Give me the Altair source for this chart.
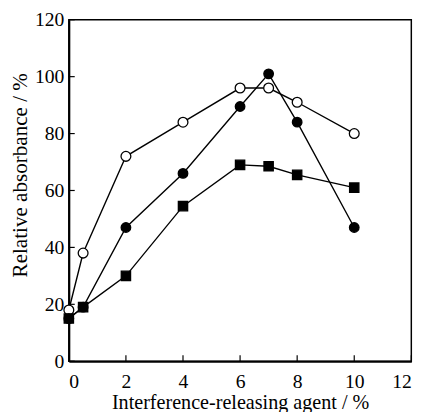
import altair as alt
import pandas as pd

# Data
x_vals = [0, 0.5, 2, 4, 6, 7, 8, 10]
open_circle = [18, 38, 72, 84, 96, 96, 91, 80]
filled_circle = [15, 19, 47, 66, 89.5, 101, 84, 47]
filled_square = [15, 19, 30, 54.5, 69, 68.5, 65.5, 61]

series_names = ["open circle", "filled circle", "filled square"]
x_ticks = [0, 2, 4, 6, 8, 10, 12]
y_ticks = [0, 20, 40, 60, 80, 100, 120]

rows = []
for name, vals in zip(series_names, [open_circle, filled_circle, filled_square]):
    for xv, yv in zip(x_vals, vals):
        rows.append({"x": xv, "y": yv, "series": name})
df = pd.DataFrame(rows)

W, H = 349, 348
FONT = "Liberation Serif"

x_scale = alt.Scale(domain=[0, 12], nice=False, zero=False)
y_scale = alt.Scale(domain=[0, 120], nice=False)

x_axis = alt.Axis(values=x_ticks, ticks=False, tickSize=0, grid=False,
                  title="Interference-releasing agent / %", labelPadding=11,
                  titleY=32, titleFontSize=20.5,
                  domainWidth=2, domainColor="black")
y_axis = alt.Axis(values=y_ticks, ticks=False, tickSize=0, grid=False,
                  title="Relative absorbance / %", labelPadding=5,
                  titleX=-38, titleY=158, titleFontSize=21.5,
                  domainWidth=2, domainColor="black")

X = alt.X("x:Q", scale=x_scale, axis=x_axis)
Y = alt.Y("y:Q", scale=y_scale, axis=y_axis)

lines = alt.Chart(df).mark_line(color="black", strokeWidth=1.4).encode(
    x=X, y=Y, detail="series:N"
)

points = alt.Chart(df).mark_point(filled=True, stroke="black", strokeWidth=1.3, opacity=1).encode(
    x=X, y=Y,
    shape=alt.Shape("series:N", scale=alt.Scale(domain=series_names, range=["circle", "circle", "square"]), legend=None),
    fill=alt.Fill("series:N", scale=alt.Scale(domain=series_names, range=["white", "black", "black"]), legend=None),
    size=alt.Size("series:N", scale=alt.Scale(domain=series_names, range=[100, 90, 130]), legend=None),
)

xt = alt.Chart(pd.DataFrame({"x": x_ticks})).mark_rule(color="black", strokeWidth=1.2).encode(
    x=X, y=alt.value(H), y2=alt.value(H - 6)
)
yt = alt.Chart(pd.DataFrame({"y": y_ticks})).mark_rule(color="black", strokeWidth=1.2).encode(
    y=Y, x=alt.value(0), x2=alt.value(6)
)

chart = alt.layer(lines, points, xt, yt).properties(
    width=W, height=H,
    autosize=alt.AutoSizeParams(type="none"),
    padding={"left": 62, "top": 8, "right": 17, "bottom": 60},
).configure_view(
    stroke="black", strokeWidth=1.5
).configure_axis(
    labelFont=FONT, labelFontSize=20, labelColor="black",
    titleFont=FONT, titleFontWeight="normal", titleColor="black",
)

chart.save("out.html", embed_options={"renderer": "svg", "actions": False})
